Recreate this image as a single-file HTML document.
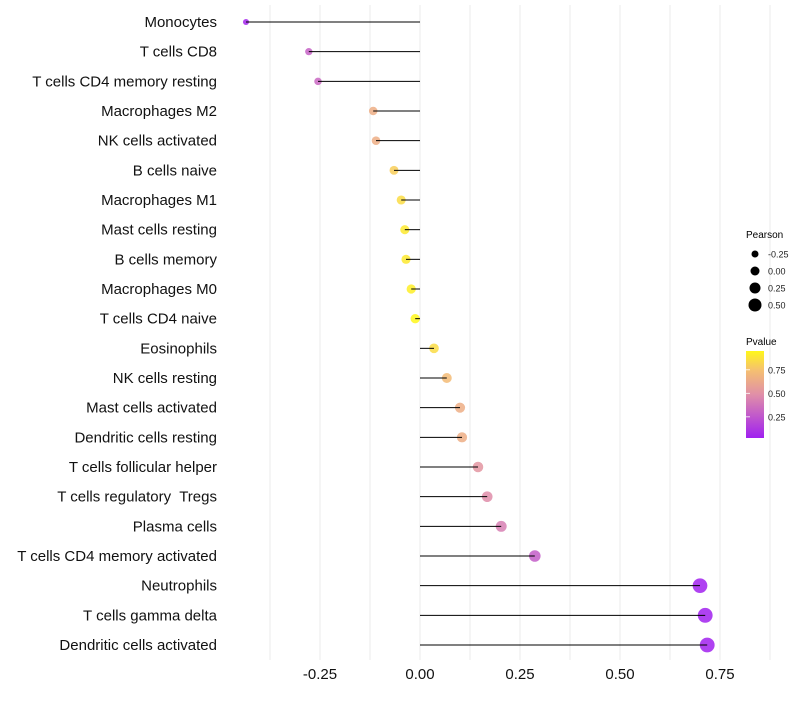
<!DOCTYPE html>
<html><head><meta charset="utf-8"><style>
body{margin:0;background:#fff;font-family:"Liberation Sans",sans-serif}
svg text{font-family:"Liberation Sans",sans-serif;white-space:pre}
</style></head><body>
<svg id="chart" width="800" height="700" viewBox="0 0 800 700" xmlns="http://www.w3.org/2000/svg">
<g id="grid"></g>
<g id="marks"></g>
<g id="ylabels"></g>
<g id="xlabels"></g>
<g id="legend">
<text x="746" y="238" font-size="10">Pearson</text>
<text x="746" y="345" font-size="10">Pvalue</text>
<defs><linearGradient id="pg" x1="0" y1="1" x2="0" y2="0">
<stop offset="0" stop-color="#A020F0"/><stop offset="0.5" stop-color="#E08FA8"/><stop offset="0.78" stop-color="#F5C070"/><stop offset="1" stop-color="#FFF71A"/></linearGradient></defs>
<rect x="746" y="351" width="18" height="87" fill="url(#pg)"/>
</g>
</svg>
<script>
const categories=["Monocytes","T cells CD8","T cells CD4 memory resting","Macrophages M2","NK cells activated","B cells naive","Macrophages M1","Mast cells resting","B cells memory","Macrophages M0","T cells CD4 naive","Eosinophils","NK cells resting","Mast cells activated","Dendritic cells resting","T cells follicular helper","T cells regulatory  Tregs","Plasma cells","T cells CD4 memory activated","Neutrophils","T cells gamma delta","Dendritic cells activated"];
const pearson=[-0.435,-0.278,-0.255,-0.117,-0.11,-0.065,-0.047,-0.038,-0.035,-0.022,-0.012,0.035,0.067,0.1,0.105,0.145,0.168,0.203,0.287,0.7,0.713,0.718];
const pvalue=[0.05,0.3,0.32,0.65,0.65,0.8,0.85,0.9,0.9,0.92,0.95,0.85,0.72,0.65,0.65,0.52,0.48,0.42,0.28,0.03,0.03,0.03];
const xTicks=[-0.25,0,0.25,0.5,0.75];
const xTickLabels=["-0.25","0.00","0.25","0.50","0.75"];
const legendVals=[-0.25,0,0.25,0.5];
const legendLabels=["-0.25","0.00","0.25","0.50"];
const pTicks=[0.25,0.5,0.75];
const pTickLabels=["0.25","0.50","0.75"];

const NS="http://www.w3.org/2000/svg";
const x=v=>420+v*400;
const y=i=>22+i*29.667;
const r=v=>Math.max(1.8,4.7+v*3.8);
const pY=p=>438-(p-0.025)/0.925*87;
function lerp(a,b,t){return a.map((c,i)=>Math.round(c+(b[i]-c)*t));}
const stops=[[0,[160,32,240]],[0.5,[224,143,168]],[0.78,[245,192,112]],[1,[255,247,26]]];
function col(p){let t=Math.min(1,Math.max(0,(p-0.025)/0.925));for(let i=1;i<stops.length;i++){if(t<=stops[i][0]){const a=stops[i-1],b=stops[i];const c=lerp(a[1],b[1],(t-a[0])/(b[0]-a[0]));return `rgb(${c})`;}}return "rgb(255,247,26)";}
function mk(tag,attrs,parent){const e=document.createElementNS(NS,tag);for(const k in attrs)e.setAttribute(k,attrs[k]);parent.appendChild(e);return e;}
const grid=document.getElementById('grid'),marks=document.getElementById('marks'),yl=document.getElementById('ylabels'),xl=document.getElementById('xlabels'),lg=document.getElementById('legend');
for(let v=-0.375;v<=0.9;v+=0.125){const g=mk('line',{x1:x(v),x2:x(v),y1:5,y2:660,stroke:'#ebebeb','stroke-width':1},grid);

}
categories.forEach((c,i)=>{
const pt=mk('circle',{cx:x(pearson[i]),cy:y(i),r:r(pearson[i]),fill:col(pvalue[i]),'fill-opacity':0.85},marks);


const ln=mk('line',{x1:x(0),x2:x(pearson[i]),y1:y(i),y2:y(i),stroke:'#000','stroke-width':1},marks);


const t=mk('text',{x:217,y:y(i)+5,'text-anchor':'end','font-size':15,fill:'#111'},yl);t.textContent=c;


});
xTicks.forEach((v,i)=>{const t=mk('text',{x:x(v),y:679,'text-anchor':'middle','font-size':15,fill:'#111'},xl);t.textContent=xTickLabels[i];

});
legendVals.forEach((v,i)=>{const cy=254+i*17;
const c=mk('circle',{cx:755,cy:cy,r:3.5+i,fill:'#000'},lg);


const t=mk('text',{x:768,y:cy+3.5,'font-size':9,fill:'#222'},lg);t.textContent=legendLabels[i];

});
pTicks.forEach((p,i)=>{const t=mk('text',{x:768,y:pY(p)+3.5,'font-size':9,fill:'#222'},lg);t.textContent=pTickLabels[i];


const tk=mk('line',{x1:746,x2:750,y1:pY(p),y2:pY(p),stroke:'#fff','stroke-width':0.8},lg);

});
</script>
</body></html>
